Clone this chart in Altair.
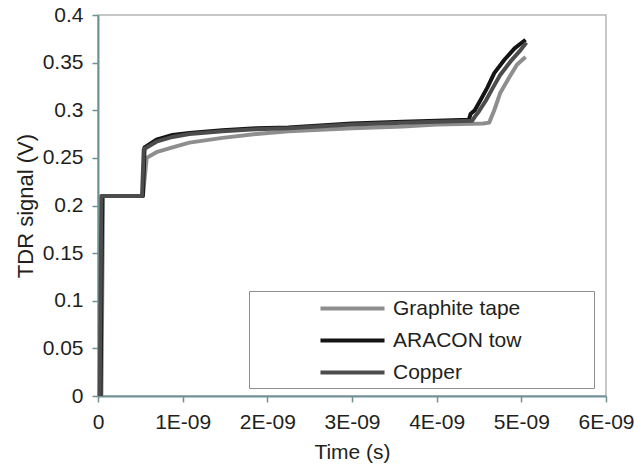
import altair as alt
import pandas as pd

# Time in nanoseconds (axis labels shown as E-09 seconds), signal in volts
graphite_t = [0.04, 0.06, 0.50, 0.53, 0.575, 0.69, 0.88, 1.08, 1.47, 1.87, 2.25, 3.0, 3.6, 4.0, 4.55, 4.62, 4.68, 4.75, 4.86, 4.95, 5.05]
graphite_v = [0.0, 0.21, 0.21, 0.21, 0.250, 0.256, 0.261, 0.266, 0.271, 0.275, 0.278, 0.281, 0.283, 0.285, 0.286, 0.287, 0.300, 0.318, 0.335, 0.348, 0.356]

aracon_t = [0.03, 0.05, 0.50, 0.53, 0.55, 0.69, 0.88, 1.08, 1.47, 1.87, 2.25, 3.0, 3.6, 4.0, 4.38, 4.40, 4.45, 4.52, 4.60, 4.68, 4.80, 4.92, 5.05]
aracon_v = [0.0, 0.21, 0.21, 0.21, 0.261, 0.269, 0.274, 0.276, 0.279, 0.281, 0.282, 0.286, 0.288, 0.289, 0.290, 0.296, 0.300, 0.311, 0.324, 0.339, 0.353, 0.365, 0.374]

copper_t = [0.02, 0.04, 0.50, 0.52, 0.54, 0.69, 0.88, 1.08, 1.47, 1.87, 2.25, 3.0, 3.6, 4.0, 4.42, 4.45, 4.50, 4.58, 4.66, 4.75, 4.87, 4.98, 5.06]
copper_v = [0.0, 0.21, 0.21, 0.21, 0.259, 0.267, 0.272, 0.275, 0.278, 0.280, 0.281, 0.285, 0.287, 0.288, 0.289, 0.293, 0.299, 0.310, 0.323, 0.337, 0.351, 0.362, 0.371]

series_names = ["Graphite tape", "ARACON tow", "Copper"]
series_colors = ["#8e8e8e", "#141414", "#4c4c4c"]
x_ticks = [0, 1, 2, 3, 4, 5, 6]
y_ticks = [0, 0.05, 0.1, 0.15, 0.2, 0.25, 0.3, 0.35, 0.4]

rows = []
for name, ts, vs in [("Graphite tape", graphite_t, graphite_v),
                     ("ARACON tow", aracon_t, aracon_v),
                     ("Copper", copper_t, copper_v)]:
    for i, (t, v) in enumerate(zip(ts, vs)):
        rows.append({"series": name, "t": t, "v": v, "i": i})
df = pd.DataFrame(rows)

FONT = "Liberation Sans"

chart = alt.Chart(df).mark_line(strokeWidth=4, strokeJoin="round").encode(
    x=alt.X("t:Q", scale=alt.Scale(domain=[0, 6], nice=False),
            axis=alt.Axis(values=x_ticks, title="Time (s)",
                          labelExpr="datum.value == 0 ? '0' : datum.value + 'E-09'",
                          titleBaseline="alphabetic", titleY=62)),
    y=alt.Y("v:Q", scale=alt.Scale(domain=[0, 0.4], nice=False),
            axis=alt.Axis(values=y_ticks, title="TDR signal (V)", format="~g",
                          titleBaseline="alphabetic", titleX=-66, titleFontSize=22)),
    color=alt.Color("series:N",
                    scale=alt.Scale(domain=series_names, range=series_colors),
                    sort=series_names,
                    legend=alt.Legend(title=" ", orient="none", legendX=151, legendY=276,
                                      titleOrient="right", titlePadding=68, titleFontSize=10,
                                      symbolType="M-3.05,0H3.05", symbolSize=441,
                                      symbolStrokeWidth=4, symbolOffset=86,
                                      labelOffset=28, labelFontSize=21, labelFont=FONT,
                                      labelColor="#231f20", rowPadding=9, padding=5,
                                      strokeColor="#8a8f93", fillColor="white")),
    order="i:Q",
).properties(
    width=508, height=381,
    autosize=alt.AutoSizeParams(type="none"),
    padding={"left": 98, "top": 15, "right": 28, "bottom": 68},
).configure_view(
    stroke="#b5b5b5", strokeWidth=1.5
).configure_axis(
    grid=False,
    domainColor="#6f9296", domainWidth=2,
    tickColor="#6f9296", tickWidth=1.5, tickSize=6,
    labelFont=FONT, labelFontSize=21, labelColor="#231f20", labelPadding=9,
    titleFont=FONT, titleFontSize=21, titleColor="#231f20", titleFontWeight="normal",
    labelOverlap=False, labelFlush=False,
)

chart.save("out.html", embed_options={"renderer": "svg", "actions": False})
